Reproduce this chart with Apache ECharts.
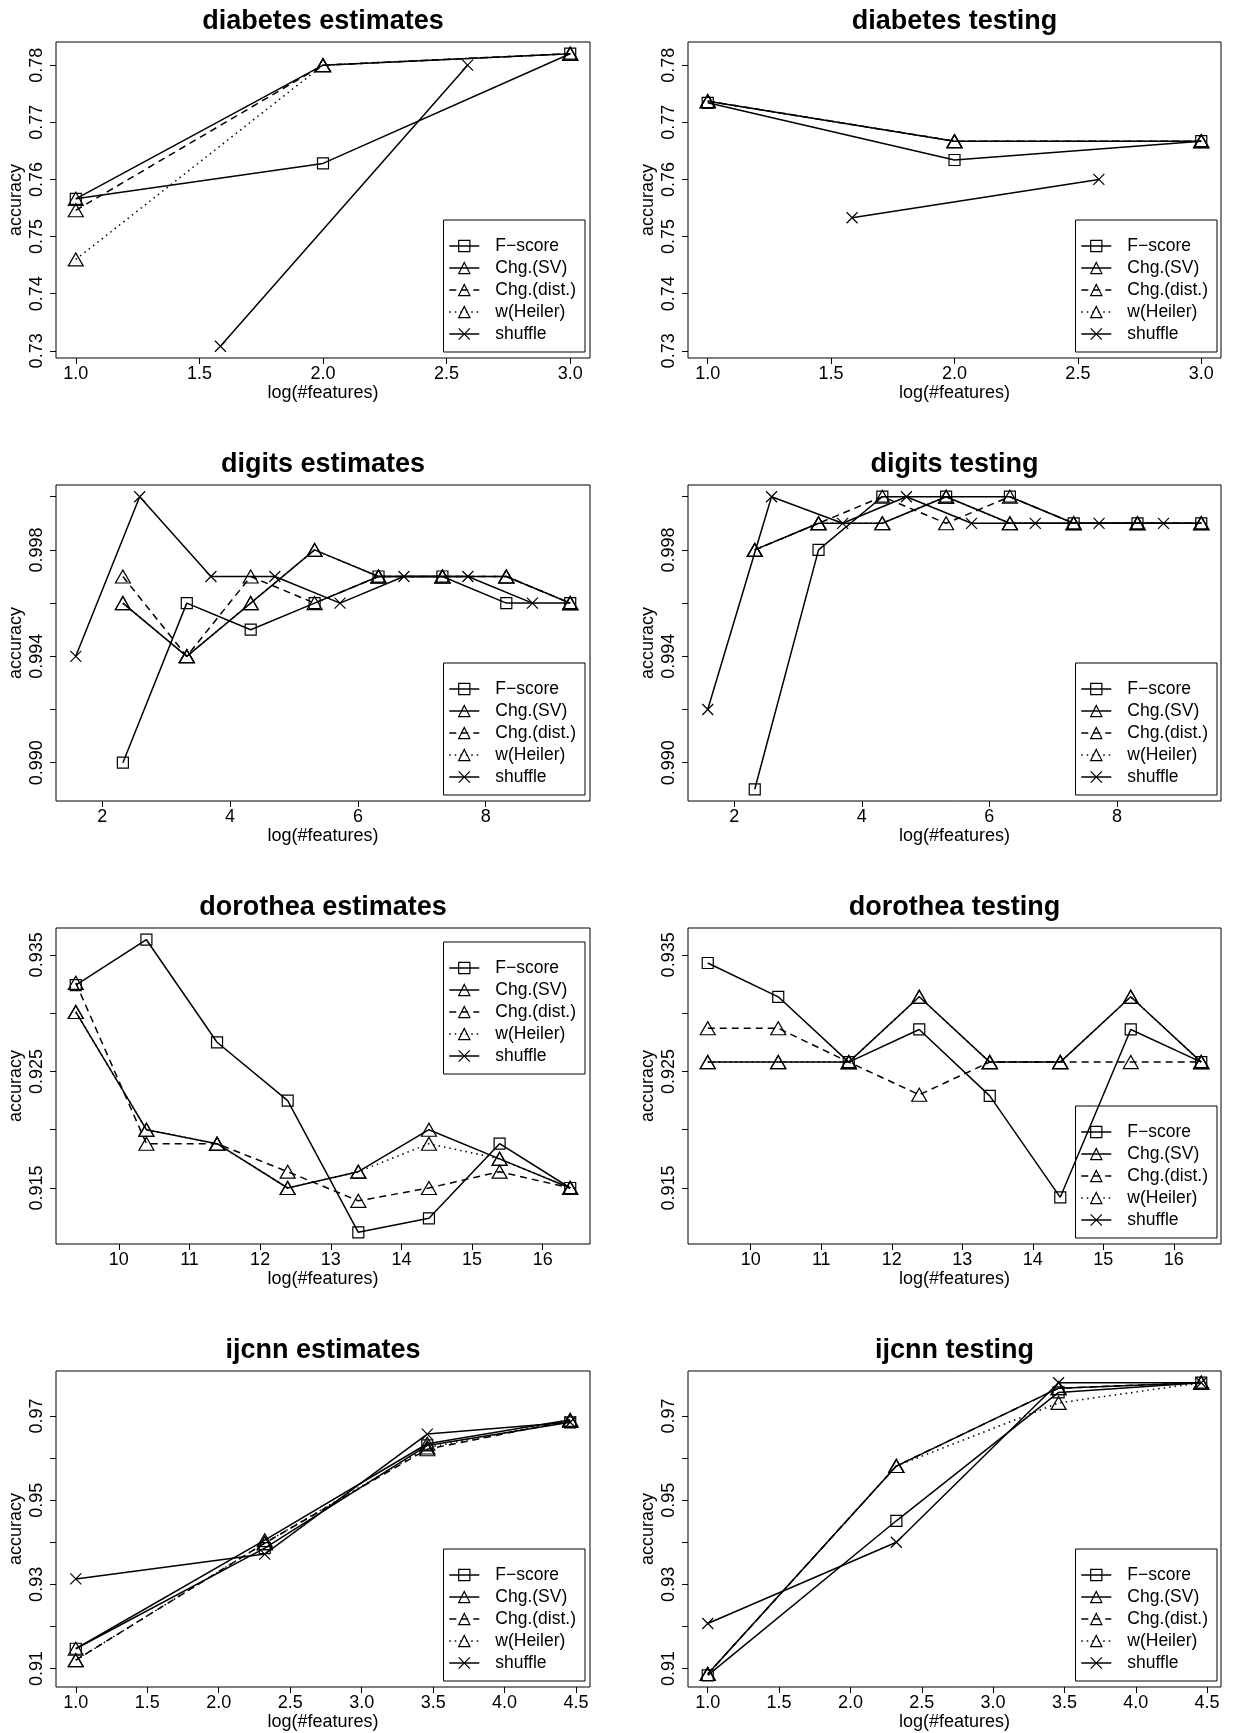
<!DOCTYPE html>
<html><head><meta charset="utf-8">
<script src="https://cdn.jsdelivr.net/npm/echarts@6/dist/echarts.min.js"></script>
<style>html,body{margin:0;padding:0;background:#fff}#c{width:1237px;height:1733px}</style>
</head><body><div id="c"></div>
<script>
const seriesNames = ['F\u2212score', 'Chg.(SV)', 'Chg.(dist.)', 'w(Heiler)', 'shuffle'];

// ---------- diabetes ----------
const diabetesX = [1, 2, 3];
const diabetesShuffleX = [1.585, 2.585];
const diabetesEstFscore = [0.7566, 0.7628, 0.7820];
const diabetesEstChgSV = [0.7566, 0.7800, 0.7820];
const diabetesEstChgDist = [0.7546, 0.7800, 0.7820];
const diabetesEstHeiler = [0.7460, 0.7800, 0.7820];
const diabetesEstShuffle = [0.7308, 0.7800];
const diabetesTestFscore = [0.7734, 0.7634, 0.7667];
const diabetesTestChgSV = [0.7737, 0.7667, 0.7667];
const diabetesTestChgDist = [0.7737, 0.7667, 0.7667];
const diabetesTestHeiler = [0.7737, 0.7667, 0.7667];
const diabetesTestShuffle = [0.7533, 0.7600];
const diabetesXTicks = [1.0, 1.5, 2.0, 2.5, 3.0];
const diabetesYTicks = [0.73, 0.74, 0.75, 0.76, 0.77, 0.78];
const diabetesYLabels = [0.73, 0.74, 0.75, 0.76, 0.77, 0.78];

// ---------- digits ----------
const digitsX = [2.322, 3.322, 4.322, 5.322, 6.322, 7.322, 8.322, 9.322];
const digitsShuffleX = [1.585, 2.585, 3.70, 4.70, 5.72, 6.72, 7.72, 8.73];
const digitsEstFscore = [0.990, 0.996, 0.995, 0.996, 0.997, 0.997, 0.996, 0.996];
const digitsEstChgSV = [0.996, 0.994, 0.996, 0.998, 0.997, 0.997, 0.997, 0.996];
const digitsEstChgDist = [0.997, 0.994, 0.997, 0.996, 0.997, 0.997, 0.997, 0.996];
const digitsEstHeiler = [0.996, 0.994, 0.996, 0.998, 0.997, 0.997, 0.997, 0.996];
const digitsEstShuffle = [0.994, 1.000, 0.997, 0.997, 0.996, 0.997, 0.997, 0.996];
const digitsTestFscore = [0.989, 0.998, 1.000, 1.000, 1.000, 0.999, 0.999, 0.999];
const digitsTestChgSV = [0.998, 0.999, 0.999, 1.000, 0.999, 0.999, 0.999, 0.999];
const digitsTestChgDist = [0.998, 0.999, 1.000, 0.999, 1.000, 0.999, 0.999, 0.999];
const digitsTestHeiler = [0.998, 0.999, 0.999, 1.000, 0.999, 0.999, 0.999, 0.999];
const digitsTestShuffle = [0.992, 1.000, 0.999, 1.000, 0.999, 0.999, 0.999, 0.999];
const digitsXTicks = [2, 4, 6, 8];
const digitsYTicks = [0.990, 0.992, 0.994, 0.996, 0.998, 1.000];
const digitsYLabels = [0.990, 0.994, 0.998];

// ---------- dorothea ----------
const dorotheaX = [9.39, 10.39, 11.39, 12.39, 13.39, 14.39, 15.39, 16.39];
const dorotheaShuffleX = [];
const dorotheaEstFscore = [0.9324, 0.9363, 0.9275, 0.9225, 0.9112, 0.9124, 0.9188, 0.9150];
const dorotheaEstChgSV = [0.9301, 0.9200, 0.9188, 0.9150, 0.9164, 0.9200, 0.9175, 0.9150];
const dorotheaEstChgDist = [0.9326, 0.9188, 0.9188, 0.9164, 0.9139, 0.9150, 0.9164, 0.9150];
const dorotheaEstHeiler = [0.9301, 0.9200, 0.9188, 0.9150, 0.9164, 0.9188, 0.9175, 0.9150];
const dorotheaEstShuffle = [];
const dorotheaTestFscore = [0.9343, 0.9314, 0.9258, 0.9286, 0.9229, 0.9142, 0.9286, 0.9258];
const dorotheaTestChgSV = [0.9258, 0.9258, 0.9258, 0.9314, 0.9258, 0.9258, 0.9314, 0.9258];
const dorotheaTestChgDist = [0.9287, 0.9287, 0.9258, 0.9230, 0.9258, 0.9258, 0.9258, 0.9258];
const dorotheaTestHeiler = [0.9258, 0.9258, 0.9258, 0.9314, 0.9258, 0.9258, 0.9314, 0.9258];
const dorotheaTestShuffle = [];
const dorotheaXTicks = [10, 11, 12, 13, 14, 15, 16];
const dorotheaYTicks = [0.915, 0.920, 0.925, 0.930, 0.935];
const dorotheaYLabels = [0.915, 0.925, 0.935];

// ---------- ijcnn ----------
const ijcnnX = [1, 2.322, 3.459, 4.459];
const ijcnnShuffleX = [1, 2.322, 3.459, 4.459];
const ijcnnEstFscore = [0.9147, 0.9386, 0.9630, 0.9685];
const ijcnnEstChgSV = [0.9147, 0.9405, 0.9634, 0.9691];
const ijcnnEstChgDist = [0.9120, 0.9398, 0.9621, 0.9689];
const ijcnnEstHeiler = [0.9120, 0.9398, 0.9625, 0.9689];
const ijcnnEstShuffle = [0.9313, 0.9372, 0.9657, 0.9685];
const ijcnnTestFscore = [0.9084, 0.9451, 0.9756, 0.9779];
const ijcnnTestChgSV = [0.9087, 0.9581, 0.9766, 0.9779];
const ijcnnTestChgDist = [0.9087, 0.9581, 0.9766, 0.9779];
const ijcnnTestHeiler = [0.9087, 0.9581, 0.9731, 0.9779];
const ijcnnTestShuffle = [0.9207, 0.9400, 0.9779, 0.9779];
const ijcnnXTicks = [1.0, 1.5, 2.0, 2.5, 3.0, 3.5, 4.0, 4.5];
const ijcnnYTicks = [0.91, 0.92, 0.93, 0.94, 0.95, 0.96, 0.97];
const ijcnnYLabels = [0.91, 0.93, 0.95, 0.97];

// R-style range: data range extended by 4% on each side
function rRange(arrs) {
  let lo = Infinity, hi = -Infinity;
  arrs.forEach(a => a.forEach(v => { if (v < lo) lo = v; if (v > hi) hi = v; }));
  const d = (hi - lo) * 0.04;
  return [lo - d, hi + d];
}

const datasets = {
  diabetes: {
    x: diabetesX, sx: diabetesShuffleX,
    est: [diabetesEstFscore, diabetesEstChgSV, diabetesEstChgDist, diabetesEstHeiler, diabetesEstShuffle],
    test: [diabetesTestFscore, diabetesTestChgSV, diabetesTestChgDist, diabetesTestHeiler, diabetesTestShuffle],
    xTicks: diabetesXTicks, yTicks: diabetesYTicks, yLabels: diabetesYLabels, xDec: 1, yDec: 2,
    legendTop: [false, false]
  },
  digits: {
    x: digitsX, sx: digitsShuffleX,
    est: [digitsEstFscore, digitsEstChgSV, digitsEstChgDist, digitsEstHeiler, digitsEstShuffle],
    test: [digitsTestFscore, digitsTestChgSV, digitsTestChgDist, digitsTestHeiler, digitsTestShuffle],
    xTicks: digitsXTicks, yTicks: digitsYTicks, yLabels: digitsYLabels, xDec: 0, yDec: 3,
    legendTop: [false, false]
  },
  dorothea: {
    x: dorotheaX, sx: dorotheaShuffleX,
    est: [dorotheaEstFscore, dorotheaEstChgSV, dorotheaEstChgDist, dorotheaEstHeiler, dorotheaEstShuffle],
    test: [dorotheaTestFscore, dorotheaTestChgSV, dorotheaTestChgDist, dorotheaTestHeiler, dorotheaTestShuffle],
    xTicks: dorotheaXTicks, yTicks: dorotheaYTicks, yLabels: dorotheaYLabels, xDec: 0, yDec: 3,
    legendTop: [true, false]
  },
  ijcnn: {
    x: ijcnnX, sx: ijcnnShuffleX,
    est: [ijcnnEstFscore, ijcnnEstChgSV, ijcnnEstChgDist, ijcnnEstHeiler, ijcnnEstShuffle],
    test: [ijcnnTestFscore, ijcnnTestChgSV, ijcnnTestChgDist, ijcnnTestHeiler, ijcnnTestShuffle],
    xTicks: ijcnnXTicks, yTicks: ijcnnYTicks, yLabels: ijcnnYLabels, xDec: 1, yDec: 2,
    legendTop: [false, false]
  }
};

const FONT = '"Liberation Sans", Arial, Helvetica, sans-serif';
const symbols = ['rect', 'triangle', 'triangle', 'triangle', 'path://M0,0L10,10M10,0L0,10'];
const symSizes = [11, [15, 13], [15, 13], [15, 13], 11];
const lineTypes = ['solid', 'solid', [7, 5], [1.5, 4], 'solid'];

const grids = [], xAxes = [], yAxes = [], series = [], legends = [], graphics = [];
const W = 1237, H = 1733;
let idx = 0;
Object.keys(datasets).forEach((key, r) => {
  const d = datasets[key];
  const xlim = rRange([d.x, d.sx]);
  const ylim = rRange(d.est.concat(d.test));
  ['estimates', 'testing'].forEach((kind, c) => {
    const i = idx++;
    const left = 56 + 632 * c, top = 42 + 443 * r, width = c ? 533 : 534, height = 316;
    grids.push({ left, top, width, height, show: true, borderColor: '#000', borderWidth: 1,
      backgroundColor: 'rgba(0,0,0,0)', containLabel: false, outerBoundsMode: 'none' });
    xAxes.push({
      type: 'value', gridIndex: i, min: xlim[0], max: xlim[1],
      axisLine: { show: false }, splitLine: { show: false },
      axisTick: { show: true, length: 6, lineStyle: { color: '#000', width: 1 }, customValues: d.xTicks },
      axisLabel: { show: true, customValues: d.xTicks, formatter: v => Number(v).toFixed(d.xDec),
        margin: 7, color: '#000', fontSize: 18, fontFamily: FONT },
      name: 'log(#features)', nameLocation: 'middle', nameGap: 26,
      nameTextStyle: { color: '#000', fontSize: 18, fontFamily: FONT }
    });
    yAxes.push({
      type: 'value', gridIndex: i, min: ylim[0], max: ylim[1],
      axisLine: { show: false }, splitLine: { show: false },
      axisTick: { show: true, length: 6, lineStyle: { color: '#000', width: 1 }, customValues: d.yTicks },
      axisLabel: { show: true, customValues: d.yLabels, formatter: v => Number(v).toFixed(d.yDec),
        rotate: 90, margin: 10, color: '#000', fontSize: 18, fontFamily: FONT },
      name: 'accuracy', nameLocation: 'middle', nameGap: 31,
      nameTextStyle: { color: '#000', fontSize: 18, fontFamily: FONT }
    });
    const ys = kind === 'estimates' ? d.est : d.test;
    ys.forEach((arr, k) => {
      const xs = k === 4 ? d.sx : d.x;
      series.push({
        type: 'line', name: seriesNames[k], xAxisIndex: i, yAxisIndex: i,
        data: arr.map((v, j) => [xs[j], v]),
        symbol: symbols[k], symbolSize: symSizes[k], showSymbol: true, showAllSymbol: true,
        itemStyle: { color: 'rgba(0,0,0,0)', borderColor: '#000', borderWidth: 1.2 },
        lineStyle: { color: '#000', width: 1.5, type: lineTypes[k] },
        emphasis: { disabled: true }, silent: true, animation: false, clip: false
      });
    });
    const leg = {
      show: true, orient: 'vertical', right: c ? 20 : 652,
      data: seriesNames, selectedMode: false,
      itemWidth: 30, itemHeight: 14, itemGap: 4, padding: [17, 9, 9, 5],
      borderColor: '#000', borderWidth: 1, borderRadius: 0, backgroundColor: 'rgba(0,0,0,0)',
      textStyle: { fontSize: 17.5, color: '#000', fontFamily: FONT, padding: [0, 0, 0, 11] },
      itemStyle: { borderWidth: 1.2 }, lineStyle: { width: 1.5 }
    };
    if (d.legendTop[c]) leg.top = top + 14; else leg.bottom = H - (top + 310);
    legends.push(leg);
    graphics.push({ type: 'text', x: left + width / 2, y: top - 20, silent: true,
      style: { text: key + ' ' + kind, fill: '#000', fontSize: 27, fontWeight: 'bold', fontFamily: FONT,
        align: 'center', verticalAlign: 'middle' } });
  });
});

const chart = echarts.init(document.getElementById('c'), null, { renderer: 'canvas', width: W, height: H });
chart.setOption({
  backgroundColor: '#fff', animation: false,
  grid: grids, xAxis: xAxes, yAxis: yAxes, series: series, legend: legends,
  graphic: { elements: graphics }
});
</script></body></html>
